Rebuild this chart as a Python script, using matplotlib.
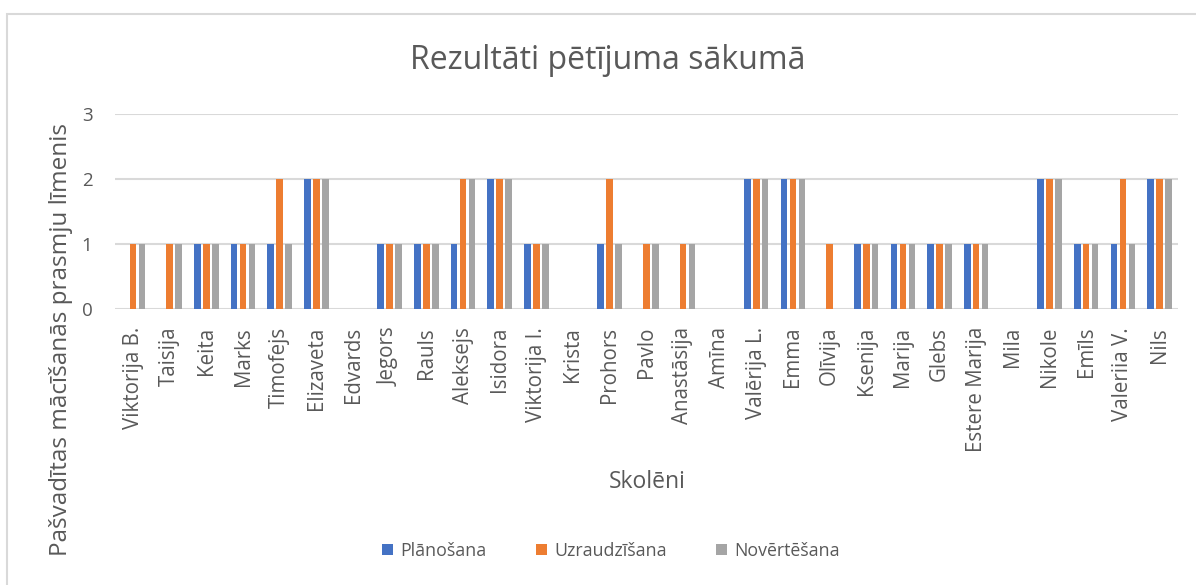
""" Rezultāti pētījuma sākumā - grouped bar chart of self-regulated
    learning skill levels per student"""

import numpy as np
from matplotlib import pyplot as plt
from matplotlib.patches import Rectangle

STUDENTS = ['Viktorija B.', 'Taisija', 'Keita', 'Marks', 'Timofejs', 'Elizaveta',
            'Edvards', 'Jegors', 'Rauls', 'Aleksejs', 'Isidora', 'Viktorija I.',
            'Krista', 'Prohors', 'Pavlo', 'Anastāsija', 'Amīna', 'Valērija L.',
            'Emma', 'Olīvija', 'Ksenija', 'Marija', 'Glebs', 'Estere Marija',
            'Mila', 'Nikole', 'Emīls', 'Valeriia V.', 'Nils']

SERIES = ['Plānošana', 'Uzraudzīšana', 'Novērtēšana']

planosana = [0, 0, 1, 1, 1, 2, 0, 1, 1, 1, 2, 1, 0, 1, 0, 0, 0, 2, 2, 0,
             1, 1, 1, 1, 0, 2, 1, 1, 2]
uzraudzisana = [1, 1, 1, 1, 2, 2, 0, 1, 1, 2, 2, 1, 0, 2, 1, 1, 0, 2, 2, 1,
                1, 1, 1, 1, 0, 2, 1, 2, 2]
novertesana = [1, 1, 1, 1, 1, 2, 0, 1, 1, 2, 2, 1, 0, 1, 1, 1, 0, 2, 2, 0,
               1, 1, 1, 1, 0, 2, 1, 1, 2]

COLORS = ['#4472C4', '#ED7D31', '#A5A5A5']
TEXT = '#595959'
GRID = '#D9D9D9'


def main():
    plt.rcParams['font.family'] = ['Open Sans', 'DejaVu Sans']

    fig = plt.figure(figsize=(11.96, 5.85), dpi=100)
    ax = fig.add_axes([0.0959, 0.472, 0.889, 0.333])

    # Three bars per student, offset around the category centre.
    x = np.arange(len(STUDENTS))
    offsets = [-0.245, 0.0, 0.245]
    for values, name, color, off in zip([planosana, uzraudzisana, novertesana],
                                        SERIES, COLORS, offsets):
        ax.bar(x + off, values, width=0.175, color=color, label=name, zorder=3)

    ax.set_xlim(-0.5, len(STUDENTS) - 0.5)
    ax.set_ylim(0, 3)
    ax.set_yticks([0, 1, 2, 3])
    ax.set_xticks(x)
    ax.set_xticklabels(STUDENTS, rotation=90)
    ax.tick_params(axis='both', length=0, colors=TEXT)
    ax.tick_params(axis='y', pad=16, labelsize=13.5)
    ax.tick_params(axis='x', pad=13, labelsize=14.8)
    ax.yaxis.grid(True, color=GRID, linewidth=1.5, zorder=0)
    for spine in ax.spines.values():
        spine.set_visible(False)

    fig.text(0.508, 0.897, 'Rezultāti pētījuma sākumā', ha='center', va='center',
             fontsize=23, color=TEXT)
    fig.text(0.541, 0.176, 'Skolēni', ha='center', va='center',
             fontsize=16.5, color=TEXT)
    fig.text(0.051, 0.42, 'Pašvadītas mācīšanās prasmju līmenis', ha='center',
             va='center', rotation=90, fontsize=17.5, color=TEXT)

    leg = fig.legend(loc='center', bbox_to_anchor=(0.511, 0.058), ncol=3,
                     frameon=False, fontsize=12.8, handlelength=0.6,
                     handleheight=0.6, handletextpad=0.4, columnspacing=2.8)
    for txt in leg.get_texts():
        txt.set_color(TEXT)

    # Light chart-area border (only top and left show in the crop).
    fig.patches.append(Rectangle((7 / 1196, -0.05), 1.1, 1 - 14 / 585 + 0.05,
                                 transform=fig.transFigure, fill=False,
                                 edgecolor=GRID, linewidth=1.5))

    fig.savefig('out.png', dpi=100)


if __name__ == '__main__':
    main()
